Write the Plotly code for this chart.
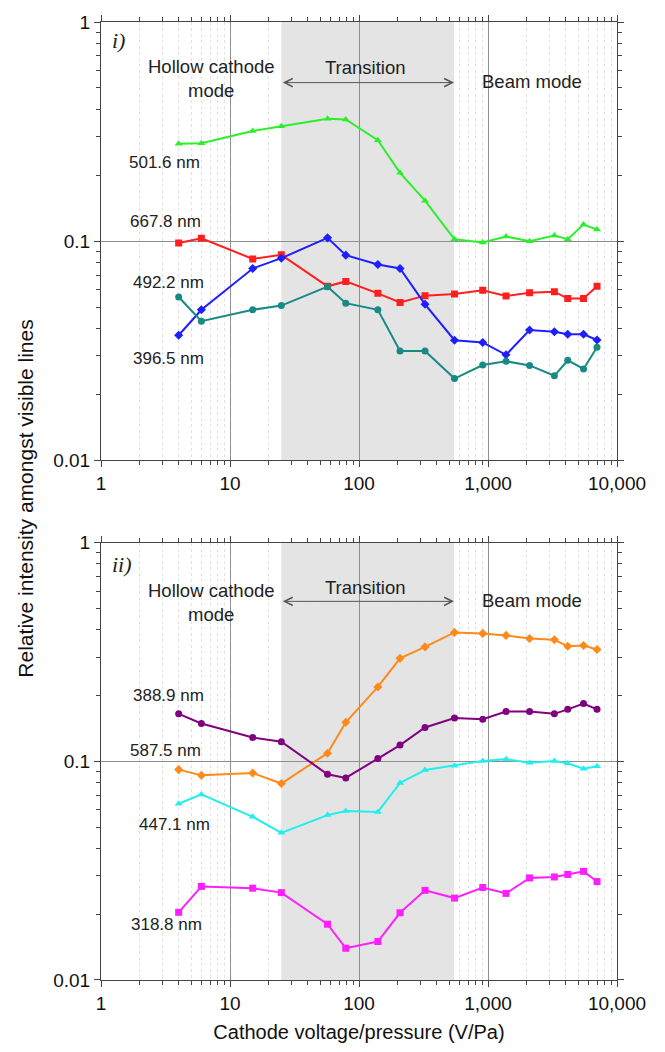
import numpy as np
import plotly.graph_objects as go

# Cathode voltage/pressure (V/Pa) at each measurement
vp = [4, 6, 15, 25, 57, 79, 140, 208, 325, 550, 910, 1380, 2100, 3270, 4150, 5500, 7000]

# Panel i) relative intensities
he_501_6 = [0.278, 0.280, 0.318, 0.334, 0.362, 0.359, 0.289, 0.205, 0.153, 0.102, 0.0985,
            0.105, 0.100, 0.106, 0.102, 0.119, 0.113]
he_667_8 = [0.098, 0.103, 0.083, 0.0866, 0.0622, 0.0655, 0.0578, 0.0525, 0.0564, 0.0574,
            0.0597, 0.0562, 0.0582, 0.0588, 0.0547, 0.0548, 0.0622]
he_396_5 = [0.0372, 0.0486, 0.0750, 0.0836, 0.1035, 0.0863, 0.0782, 0.0750, 0.0515, 0.0353,
            0.0345, 0.0303, 0.0393, 0.0386, 0.0376, 0.0376, 0.0354]
he_492_2 = [0.0556, 0.0431, 0.0486, 0.0508, 0.0620, 0.0521, 0.0486, 0.0315, 0.0315, 0.0236,
            0.0272, 0.0283, 0.0271, 0.0243, 0.0286, 0.0261, 0.0328]

# Panel ii) relative intensities
he_587_5 = [0.0917, 0.0863, 0.0885, 0.0792, 0.109, 0.151, 0.219, 0.296, 0.334, 0.389, 0.385,
            0.377, 0.365, 0.360, 0.336, 0.339, 0.325]
he_388_9 = [0.165, 0.149, 0.1285, 0.123, 0.0873, 0.0840, 0.103, 0.1187, 0.143, 0.158, 0.156,
            0.169, 0.169, 0.165, 0.173, 0.184, 0.173]
he_447_1 = [0.0640, 0.0706, 0.0558, 0.0471, 0.0568, 0.0593, 0.0587, 0.0797, 0.0913, 0.0956,
            0.1005, 0.1024, 0.0985, 0.1005, 0.098, 0.0925, 0.095]
he_318_8 = [0.0204, 0.0268, 0.0263, 0.0251, 0.0180, 0.01397, 0.0150, 0.0203, 0.0257, 0.0237,
            0.0265, 0.0249, 0.0293, 0.0296, 0.0304, 0.0314, 0.0282]

# Transition region bounds (V/Pa)
transition = [25, 545]

x_tickvals = [1, 10, 100, 1000, 10000]
x_ticktext = ["1", "10", "100", "1,000", "10,000"]
y_tickvals = [0.01, 0.1, 1]
y_ticktext = ["0.01", "0.1", "1"]

FONT = "Liberation Sans, Arial, sans-serif"
TEXT = "#222"

series = [
    # (values, label, colour, marker, x-axis, y-axis, label x (log10), label y (log10))
    (he_501_6, "501.6 nm", "#2bef2b", "triangle-up", "x", "y", 0.49, -0.639),
    (he_667_8, "667.8 nm", "#ff1f1f", "square", "x", "y", 0.50, -0.912),
    (he_396_5, "396.5 nm", "#1e1eff", "diamond", "x", "y", 0.52, -1.537),
    (he_492_2, "492.2 nm", "#178a85", "circle", "x", "y", 0.52, -1.187),
    (he_587_5, "587.5 nm", "#ff8a1a", "diamond", "x2", "y2", 0.50, -0.950),
    (he_388_9, "388.9 nm", "#800080", "circle", "x2", "y2", 0.52, -0.700),
    (he_447_1, "447.1 nm", "#22eeee", "triangle-up", "x2", "y2", 0.57, -1.291),
    (he_318_8, "318.8 nm", "#ff1eff", "square", "x2", "y2", 0.51, -1.744),
]

fig = go.Figure()
annotations = []
for vals, name, col, sym, xa, ya, lx, ly in series:
    fig.add_trace(go.Scatter(
        x=vp, y=vals, mode="lines+markers", name=name, xaxis=xa, yaxis=ya,
        line=dict(color=col, width=2),
        marker=dict(color=col, symbol=sym, size=7),
        showlegend=False,
    ))
    annotations.append(dict(
        x=lx, y=ly, xref=xa, yref=ya, text=name, showarrow=False,
        font=dict(family=FONT, size=17, color=TEXT),
    ))

# Region labels and transition arrows for each panel
for xa, ya, tag, tag_x, tag_y, hc_y, tr_y, arr_y, bm_y in [
    ("x", "y", "i)", 0.136, -0.086, -0.260, -0.209, -0.2766, -0.272),
    ("x2", "y2", "ii)", 0.163, -0.100, -0.273, -0.205, -0.268, -0.264),
]:
    annotations += [
        dict(x=tag_x, y=tag_y, xref=xa, yref=ya, text=f"<i>{tag}</i>", showarrow=False,
             font=dict(family="Liberation Serif, serif", size=22, color=TEXT)),
        dict(x=0.853, y=hc_y, xref=xa, yref=ya, text="Hollow cathode<br>mode",
             showarrow=False, font=dict(family=FONT, size=18.5, color=TEXT)),
        dict(x=2.054, y=tr_y, xref=xa, yref=ya, text="Transition", showarrow=False,
             font=dict(family=FONT, size=18.5, color=TEXT)),
        dict(x=3.341, y=bm_y, xref=xa, yref=ya, text="Beam mode", showarrow=False,
             font=dict(family=FONT, size=18.5, color=TEXT)),
        dict(x=np.log10(transition[1]), y=arr_y, xref=xa, yref=ya,
             ax=np.log10(transition[0]), ay=arr_y, axref=xa, ayref=ya,
             text="", showarrow=True, arrowhead=5, startarrowhead=5,
             arrowside="end+start", arrowsize=1.6, arrowwidth=1, arrowcolor="#555"),
    ]

shapes = []
for xa, ya in [("x", "y"), ("x2", "y2")]:
    shapes.append(dict(type="rect", xref=xa, yref=f"{ya} domain",
                       x0=transition[0], x1=transition[1], y0=0, y1=1,
                       fillcolor="#e4e4e4", line=dict(width=0), layer="below"))


def xaxis(anchor, title=None):
    ax = dict(
        type="log", range=[0, 4], anchor=anchor,
        tickvals=x_tickvals, ticktext=x_ticktext,
        ticks="outside", ticklen=6, tickcolor="#444",
        showline=True, linecolor="#444", linewidth=1, mirror="allticks",
        showgrid=True, gridcolor="#8f8f8f", gridwidth=1,
        zeroline=False,
        tickfont=dict(family=FONT, size=19, color="#111"),
        minor=dict(dtick="D1", ticks="outside", ticklen=4, tickcolor="#444",
                   showgrid=True, gridcolor="#e2e2e2", griddash="dot", gridwidth=1),
    )
    if title:
        ax["title"] = dict(text=title, font=dict(family=FONT, size=20, color="#111"),
                           standoff=12)
    return ax


def yaxis(domain, anchor):
    return dict(
        type="log", range=[-2, 0], domain=domain, anchor=anchor,
        tickvals=y_tickvals, ticktext=y_ticktext,
        ticks="outside", ticklen=6, tickcolor="#444",
        showline=True, linecolor="#444", linewidth=1, mirror="allticks",
        showgrid=True, gridcolor="#8f8f8f", gridwidth=1,
        zeroline=False,
        tickfont=dict(family=FONT, size=19, color="#111"),
        minor=dict(dtick="D1", ticks="outside", ticklen=4, tickcolor="#444",
                   showgrid=False),
    )


# Shared y-axis title centred between both panels
annotations.append(dict(
    x=-0.148, y=0.5 - (497 - (17 + 981) / 2) / 964, xref="paper", yref="paper",
    xanchor="center", yanchor="middle",
    text="Relative intensity amongst visible lines",
    showarrow=False, textangle=-90, font=dict(family=FONT, size=21, color="#111"),
))

fig.update_layout(
    width=665, height=1052,
    margin=dict(l=101, r=48, t=17, b=71),
    plot_bgcolor="white", paper_bgcolor="white",
    xaxis=xaxis("y"),
    yaxis=yaxis([0.5425, 1.0], "x"),
    xaxis2=xaxis("y2", "Cathode voltage/pressure (V/Pa)"),
    yaxis2=yaxis([0.0, 0.4564], "x2"),
    shapes=shapes,
    annotations=annotations,
    showlegend=False,
)

fig.write_html("out.html")
